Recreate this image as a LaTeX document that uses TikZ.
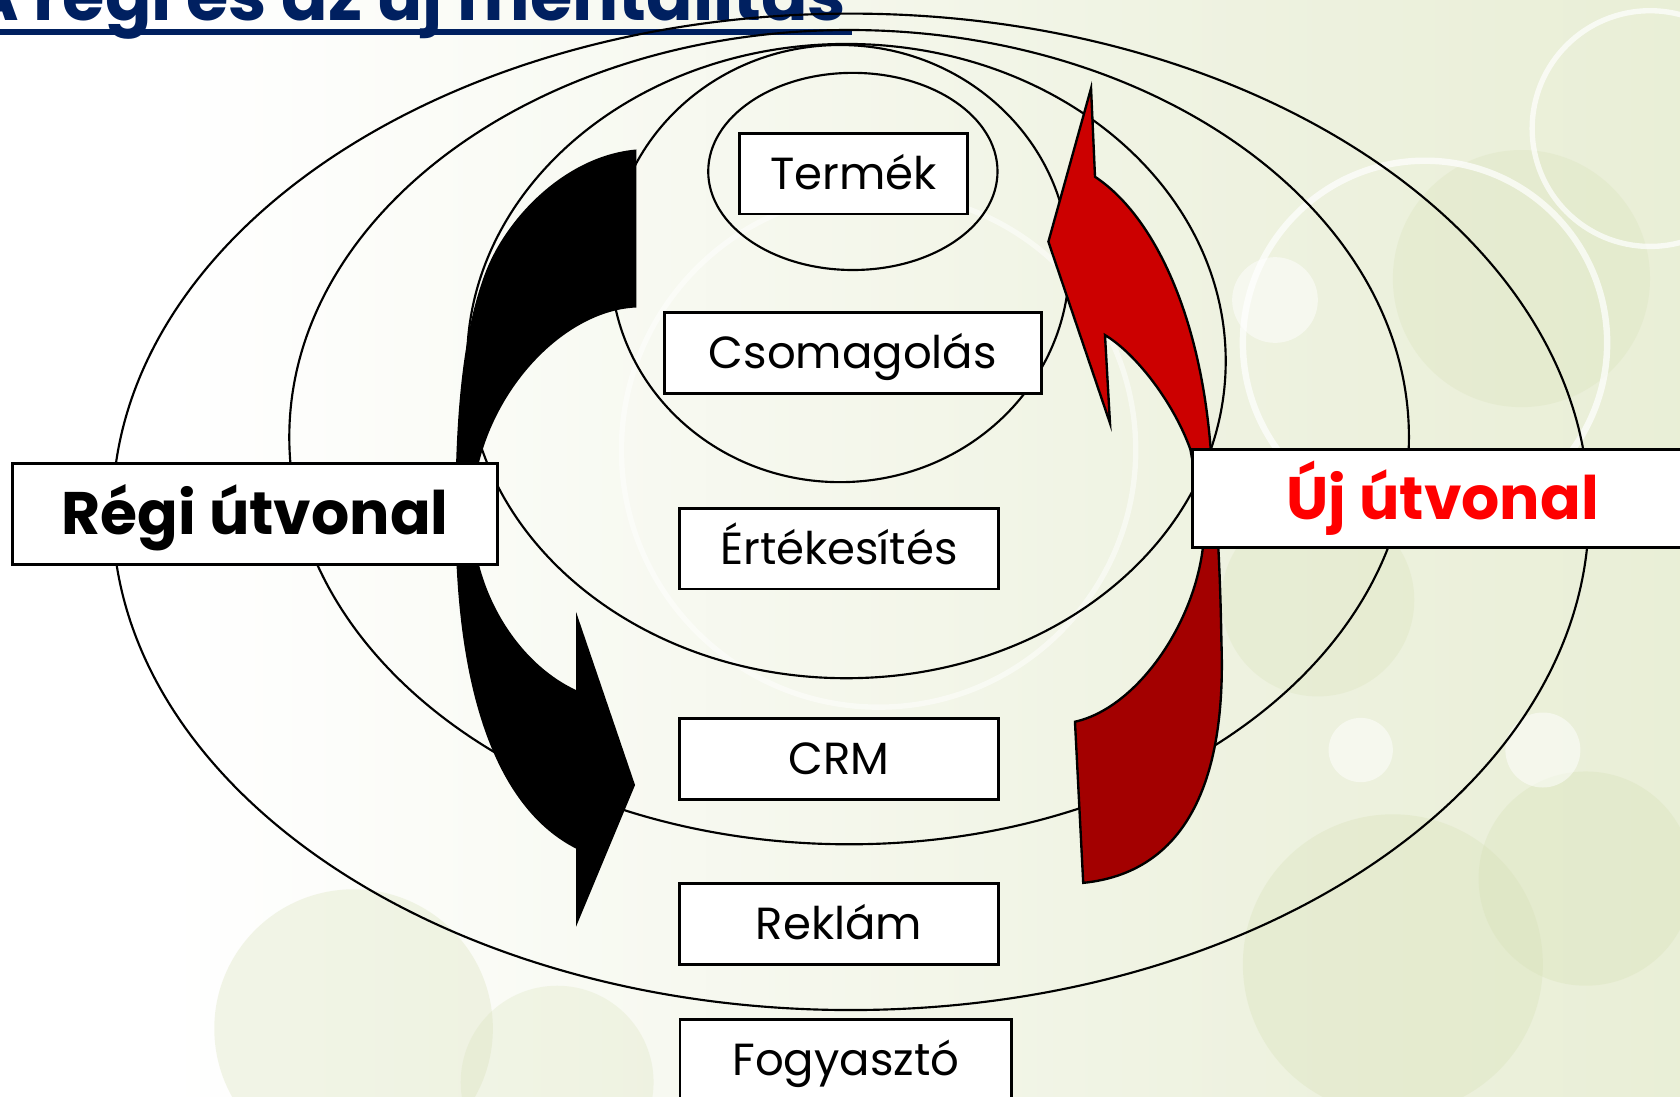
\documentclass[tikz,border=0pt]{standalone}
\usepackage{fontspec}
\setmainfont{Poppins}
\definecolor{navy}{RGB}{0,32,96}
\definecolor{redA}{RGB}{204,0,0}
\definecolor{redB}{RGB}{163,0,0}
\definecolor{redT}{RGB}{255,0,0}
\definecolor{bgA}{RGB}{238,242,224}
\definecolor{bgB}{RGB}{224,232,196}
\definecolor{bgC}{RGB}{214,224,180}
\pgfdeclarehorizontalshading{bgsh}{100bp}{color(0bp)=(white); color(30bp)=(white); color(62bp)=(bgA); color(100bp)=(bgB)}
\begin{document}
\begin{tikzpicture}[x=1pt,y=-1pt,
  ring/.style={draw=black, line width=2},
  lbl/.style={draw=black, line width=2.4, fill=white, inner sep=0pt,
    font=\fontsize{42}{48}\selectfont, text height=29.4pt, text depth=0pt,
    minimum height=75.4pt},
  path/.style={draw=black, line width=2.4, fill=white, inner sep=0pt,
    font=\fontsize{56}{62}\selectfont\bfseries, text height=39.2pt, text depth=0pt},
  arrowline/.style={draw=black, line width=2.2, line join=miter}]
\useasboundingbox (0,0) rectangle (1568,1023);
% background
\shade[shading=bgsh] (0,0) rectangle (1568,1023);
\begin{scope}
\clip (0,0) rectangle (1568,1023);
\fill[bgC, opacity=0.30] (330,960) circle [radius=130];
\fill[bgC, opacity=0.25] (520,1010) circle [radius=90];
\fill[bgC, opacity=0.30] (1300,900) circle [radius=140];
\fill[bgC, opacity=0.30] (1480,820) circle [radius=100];
\fill[bgC, opacity=0.25] (1230,560) circle [radius=90];
\fill[bgC, opacity=0.25] (1420,260) circle [radius=120];
\draw[white, line width=6, opacity=0.7] (1330,320) circle [radius=170];
\draw[white, line width=5, opacity=0.7] (1540,120) circle [radius=110];
\draw[white, line width=5, opacity=0.5] (820,420) circle [radius=240];
\fill[white, opacity=0.5] (1190,280) circle [radius=40];
\fill[white, opacity=0.5] (1270,700) circle [radius=30];
\fill[white, opacity=0.5] (1440,700) circle [radius=35];
\end{scope}
% title
\node[anchor=base east, inner sep=0pt, font=\fontsize{64}{70}\selectfont\bfseries, text=navy] (title) at (790,19) {A régi és az új mentalitás};
\coordinate (ulR) at (795,30);
\draw[navy, line width=5] (ulR -| title.west) -- (ulR);
% rings
\draw[ring] (794,477.7) ellipse [x radius=689, y radius=465];
\draw[ring] (792.5,408) ellipse [x radius=522.5, y radius=380];
\draw[ring] (790,337) ellipse [x radius=354, y radius=296];
\draw[ring] (784,246) ellipse [x radius=214, y radius=204];
\draw[ring] (796,160) ellipse [x radius=135, y radius=92];
% old path arrow (black)
\fill[black] (594,139.5) -- (594,287)
  .. controls (520,290) and (441,380) .. (441,480)
  .. controls (441,550) and (482,618) .. (537.6,644)
  -- (537.6,571) -- (592.7,732.7) -- (537.6,865) -- (537.6,792)
  .. controls (465,755) and (425,650) .. (425,480)
  .. controls (425,370) and (435,300) .. (454,252)
  .. controls (475,200) and (530,145) .. (594,139.5) -- cycle;
% new path arrow (red), lower part
\filldraw[arrowline, fill=redB] (1124,490)
  .. controls (1124,570) and (1065,660) .. (1003.3,673.6)
  -- (1011,824)
  .. controls (1100,815) and (1145,740) .. (1140,600)
  .. controls (1139,540) and (1137,510) .. (1136,490) -- cycle;
% upper part with head
\filldraw[arrowline, fill=redA] (1018.3,82.4) -- (1022,165)
  .. controls (1075,200) and (1120,290) .. (1130,419.4)
  -- (1136,490) -- (1124,490) -- (1111,419.4)
  .. controls (1095,375) and (1060,330) .. (1031.3,312.7)
  -- (1036,395) -- (978.5,225.6) -- cycle;
% labels
\node[lbl, minimum width=213pt] (termek) at (796.5,162.2) {Termék};
\node[lbl, minimum width=352pt] (csomag) at (796,329.3) {Csomagolás};
\node[lbl, minimum width=298pt] (ertek) at (783,512.1) {Értékesítés};
\node[lbl, minimum width=298pt] (crm) at (783,708.4) {CRM};
\node[lbl, minimum width=298pt] (reklam) at (783,862.5) {Reklám};
\node[lbl, minimum width=309.5pt] (fogy) at (789.5,989) {Fogyasztó};
\node[path, minimum width=452.7pt, minimum height=94.3pt] (regi) at (238.2,479.6) {Régi útvonal};
\node[path, minimum width=467pt, minimum height=91.8pt, text=redT] (uj) at (1346.5,465.3) {Új útvonal};
\end{tikzpicture}
\end{document}
